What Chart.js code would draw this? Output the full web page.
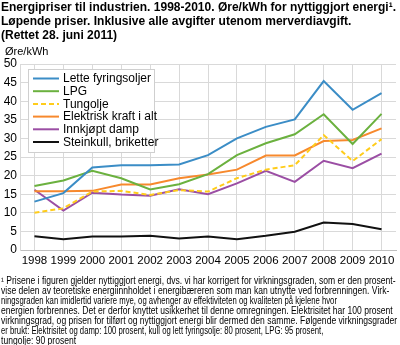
<!DOCTYPE html>
<html><head><meta charset="utf-8">
<script src="https://cdn.jsdelivr.net/npm/chart.js@4"></script>
<style>
html,body{margin:0;padding:0;background:#fff;}
#wrap{position:relative;width:400px;height:345px;overflow:hidden;font-family:"Liberation Sans",Arial,sans-serif;}
#c{position:absolute;left:0;top:0;}
.title{position:absolute;left:1px;top:0px;font-weight:bold;font-size:13px;line-height:14px;color:#000;}
.title div{white-space:nowrap;transform-origin:0 0;}
.unit{position:absolute;left:5px;top:45px;font-size:11px;color:#000;}
.fn{position:absolute;left:1px;top:276px;font-size:10px;line-height:10px;color:#000;}
.fn div{white-space:nowrap;transform-origin:0 0;}
</style></head>
<body>
<div id="wrap">
<canvas id="c" width="400" height="345"></canvas>
<div class="title" id="tt"><div>Energipriser til industrien. 1998-2010. Øre/kWh for nyttiggjort energi¹.</div><div>Løpende priser. Inklusive alle avgifter utenom merverdiavgift.</div><div>(Rettet 28. juni 2011)</div></div>
<div class="unit">Øre/kWh</div>
<div class="fn" id="fn">
<div>¹ Prisene i figuren gjelder nyttiggjort energi, dvs. vi har korrigert for virkningsgraden, som er den prosent-</div>
<div>vise delen av teoretiske energiinnholdet i energibæreren som man kan utnytte ved forbrenningen. Virk-</div>
<div>ningsgraden kan imidlertid variere mye, og avhenger av effektiviteten og kvaliteten på kjelene hvor</div>
<div>energien forbrennes. Det er derfor knyttet usikkerhet til denne omregningen. Elektrisitet har 100 prosent</div>
<div>virkningsgrad, og prisen for tilført og nyttiggjort energi blir dermed den samme. Følgende virkningsgrader</div>
<div>er brukt: Elektrisitet og damp: 100 prosent, kull og lett fyringsolje: 80 prosent, LPG: 95 prosent,</div>
<div>tungolje: 90 prosent</div>
</div>
</div>
<script>
const years = ["1998","1999","2000","2001","2002","2003","2004","2005","2006","2007","2008","2009","2010"];
const letteFyringsoljer = [13.0,15.3,22.2,22.8,22.8,23.0,25.5,30.0,33.1,35.1,45.4,37.7,42.2];
const lpg = [17.2,18.7,21.3,19.3,16.3,17.7,20.4,25.5,28.7,31.1,36.5,28.5,36.6];
const tungolje = [10.0,11.2,15.7,15.9,14.8,16.1,15.7,19.3,21.6,22.8,30.9,23.9,29.8];
const elektriskKraft = [15.8,15.8,15.9,17.6,17.6,19.3,20.3,21.6,25.4,25.4,29.3,29.6,32.7];
const innkjoptDamp = [16.2,10.6,15.4,14.9,14.6,16.3,15.0,17.9,21.3,18.3,24.0,22.0,25.9];
const steinkull = [3.7,2.9,3.6,3.6,3.8,3.1,3.6,2.9,3.8,4.9,7.4,7.0,5.6];
const yTicks = [0,5,10,15,20,25,30,35,40,45,50];

// fit title to width
(function(){
  const rows=document.querySelectorAll('#tt div');
  const w=rows[0].getBoundingClientRect().width;
  const f=395/w;
  rows.forEach(d=>{d.style.transform='scaleX('+f+')';});
})();
// fit footnote lines to width
(function(){
  const rows=document.querySelectorAll('#fn div');
  let f0=1;
  rows.forEach((d,i)=>{
    if(i===rows.length-1){d.style.transform='scaleX('+f0+')';return;}
    const w=d.getBoundingClientRect().width;
    let target=396;
    if(i===2) target=358;
    if(i===5) target=357;
    const f=target/w;
    if(i===0) f0=f;
    d.style.transform='scaleX('+f+')';
  });
})();

const legendInside = {
  id:'legendInside',
  afterDraw(chart){
    const ctx=chart.ctx;
    const x0=28,y0=69,w=126,h=83;
    ctx.save();
    ctx.fillStyle='#fff';
    ctx.fillRect(x0,y0,w,h);
    ctx.strokeStyle='#cfcfcf';ctx.lineWidth=1;
    ctx.strokeRect(x0+0.5,y0+0.5,w,h);
    ctx.font='12px "Liberation Sans", Arial, sans-serif';
    ctx.textBaseline='middle';
    chart.data.datasets.forEach((ds,i)=>{
      const y=78.5+i*12.7;
      ctx.strokeStyle=ds.borderColor;ctx.lineWidth=2;
      ctx.setLineDash(ds.borderDash||[]);
      ctx.beginPath();ctx.moveTo(33,y);ctx.lineTo(59,y);ctx.stroke();
      ctx.setLineDash([]);
      ctx.fillStyle='#000';
      ctx.fillText(ds.label,63,y+0.5);
    });
    ctx.restore();
  }
};

function ds(label,data,color,dash){
  return {label,data,borderColor:color,backgroundColor:color,borderWidth:2,pointRadius:0,tension:0,fill:false,borderDash:dash||[]};
}

new Chart(document.getElementById('c'),{
  type:'line',
  data:{labels:years,datasets:[
    ds('Lette fyringsoljer',letteFyringsoljer,'#3b8dc6'),
    ds('LPG',lpg,'#6bb13f'),
    ds('Tungolje',tungolje,'#ffcc1a',[5,3]),
    ds('Elektrisk kraft i alt',elektriskKraft,'#f7892d'),
    ds('Innkjøpt damp',innkjoptDamp,'#9b4ea4'),
    ds('Steinkull, briketter',steinkull,'#111111')
  ]},
  options:{
    responsive:false,animation:false,
    layout:{padding:{left:0,top:64,right:4,bottom:75}},
    plugins:{legend:{display:false},title:{display:false},tooltip:{enabled:false}},
    scales:{
      x:{offset:true,
        grid:{offset:false,color:'#d9d9d9',lineWidth:1,drawTicks:false},
        border:{color:'#bfbfbf'},
        ticks:{color:'#000',font:{family:'"Liberation Sans", Arial, sans-serif',size:11.5},padding:4,maxRotation:0,autoSkip:false},
        afterFit(s){s.height=20;}
      },
      y:{min:0,max:50,
        afterBuildTicks(s){s.ticks=yTicks.map(v=>({value:v}));},
        grid:{color:'#d9d9d9',lineWidth:1,drawTicks:false},
        border:{color:'#d9d9d9'},
        ticks:{color:'#000',font:{family:'"Liberation Sans", Arial, sans-serif',size:12},padding:3},
        afterFit(s){s.width=20;}
      }
    }
  },
  plugins:[legendInside]
});
</script>
</body></html>
